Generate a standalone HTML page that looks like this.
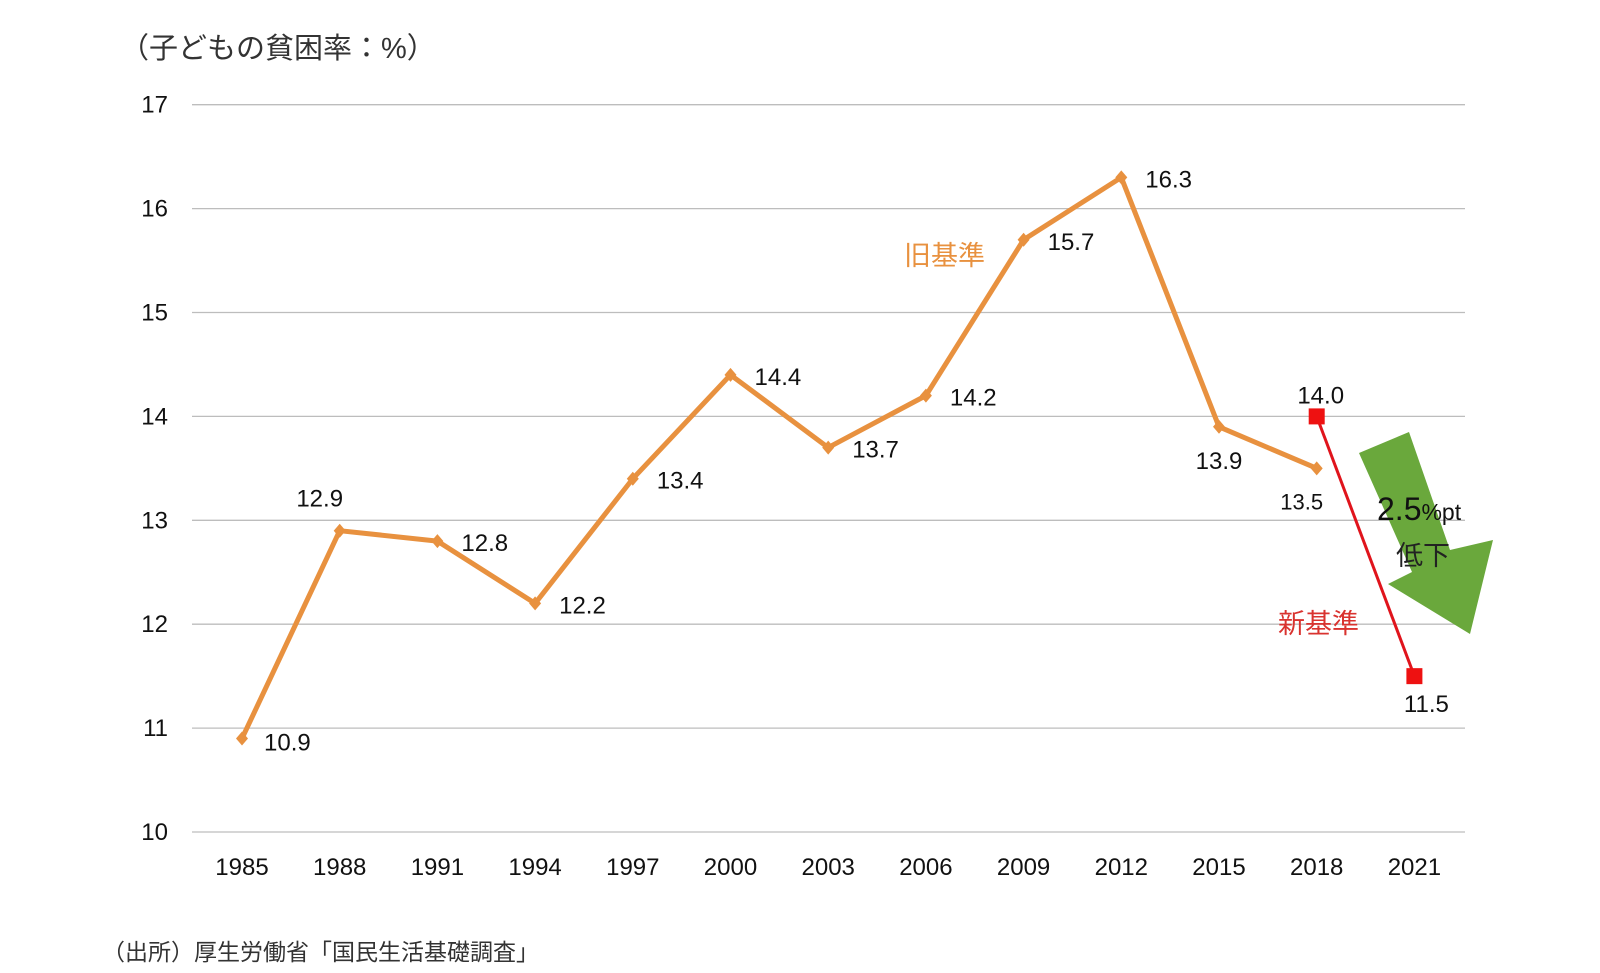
<!DOCTYPE html>
<html><head><meta charset="utf-8"><style>
body{margin:0;background:#fff;width:1600px;height:968px;overflow:hidden}
text{font-family:"Liberation Sans","Noto Sans CJK JP",sans-serif}
</style></head><body>
<svg id="chart" width="1600" height="968" xmlns="http://www.w3.org/2000/svg">
<text x="120" y="58" font-size="29" fill="#333">（子どもの貧困率：%）</text>
<text x="102" y="960" font-size="23" fill="#333">（出所）厚生労働省「国民生活基礎調査」</text>
<g id="grid"></g><g id="series"></g>
<polygon points="1359,453 1409,432 1450,550 1493,540 1470,634 1388,584 1412,572" fill="#6aa83c"/>
<text x="1377" y="520" font-size="32" fill="#111">2.5<tspan font-size="23">%pt</tspan></text>
<text x="1396" y="565" font-size="27" fill="#222">低下</text>
<text x="904" y="265" font-size="27" fill="#e8913f">旧基準</text>
<text x="1278" y="633" font-size="27" fill="#d9332f">新基準</text>
</svg>
<script>
const years=["1985","1988","1991","1994","1997","2000","2003","2006","2009","2012","2015","2018","2021"];
const oldValues=[10.9,12.9,12.8,12.2,13.4,14.4,13.7,14.2,15.7,16.3,13.9,13.5];
const newValues=[null,null,null,null,null,null,null,null,null,null,null,14.0,11.5];
const yTicks=[10,11,12,13,14,15,16,17];
const NS="http://www.w3.org/2000/svg";
const X=i=>242+i*97.7;
const Y=v=>832-(v-10)*103.9;
function mk(tag,attrs,parent,txt){const e=document.createElementNS(NS,tag);for(const k in attrs)e.setAttribute(k,attrs[k]);if(txt!=null)e.textContent=txt;parent.appendChild(e);return e;}
const grid=document.getElementById('grid'),ser=document.getElementById('series');
yTicks.forEach(t=>{
 const l=mk('line',{x1:192,x2:1465,y1:Y(t),y2:Y(t),stroke:'#bdbdbd','stroke-width':1.3},grid);
 
 
 const tx=mk('text',{x:168,y:Y(t)+8,'font-size':24,'text-anchor':'end',fill:'#111'},grid,t);
 
 
});
years.forEach((y,i)=>{
 const tx=mk('text',{x:X(i),y:875,'font-size':24,'text-anchor':'middle',fill:'#111'},grid,y);
 
 
});
const oldPts=oldValues.map((v,i)=>X(i)+','+Y(v)).join(' ');
const pl=mk('polyline',{points:oldPts,fill:'none',stroke:'#e8913f','stroke-width':5,'stroke-linejoin':'round'},ser);


oldValues.forEach((v,i)=>{
 const x=X(i),y=Y(v);
 const d=mk('polygon',{points:`${x},${y-7} ${x+6},${y} ${x},${y+7} ${x-6},${y}`,fill:'#e8913f'},ser);
 
 
 let tx=x+24,ty=y+10,anchor='start',fs=24;
 if(i==0){tx=x+22;ty=y+12;}
 if(i==1){tx=x-20;ty=y-24;anchor='middle';}
 if(i==10){tx=x;ty=y+42;anchor='middle';}
 if(i==11){tx=x-15;ty=y+41;anchor='middle';fs=22;}
 const t=mk('text',{x:tx,y:ty,'font-size':fs,'text-anchor':anchor,fill:'#111'},ser,v.toFixed(1));
 
 
});
const np=[];newValues.forEach((v,i)=>{if(v!=null)np.push([X(i),Y(v),v,i]);});
const nl=mk('polyline',{points:np.map(p=>p[0]+','+p[1]).join(' '),fill:'none',stroke:'#e0141c','stroke-width':3},ser);


np.forEach((p,k)=>{
 const r=mk('rect',{x:p[0]-8,y:p[1]-8,width:16,height:16,fill:'#ee1111'},ser);
 
 
 const t=mk('text',{x:p[0]+(k==0?4:12),y:k==0?p[1]-13:p[1]+36,'font-size':24,'text-anchor':'middle',fill:'#111'},ser,p[2].toFixed(1));
 
 
});
</script>
</body></html>
